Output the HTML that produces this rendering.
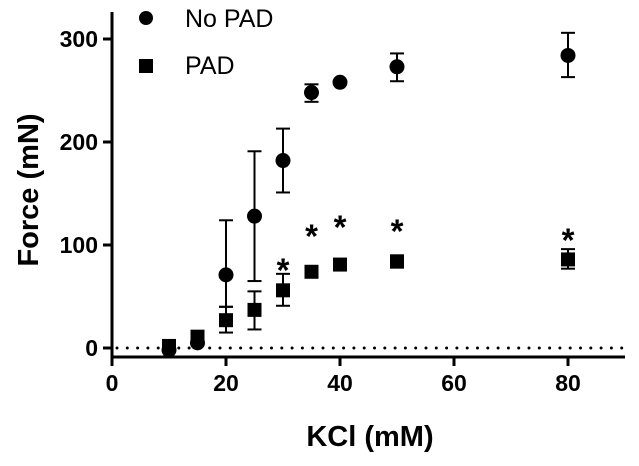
<!DOCTYPE html>
<html><head><meta charset="utf-8"><style>
body{margin:0;background:#fff;}
svg text{font-family:"Liberation Sans",Arial,sans-serif;}
</style></head><body>
<svg id="c" width="639" height="461" viewBox="0 0 639 461">
<g id="axes"></g><g id="marks"></g>
<text x="370" y="446" text-anchor="middle" font-size="29" font-weight="bold">KCl (mM)</text>
<text transform="translate(38,190) rotate(-90)" text-anchor="middle" font-size="29" font-weight="bold">Force (mN)</text>
<circle cx="146" cy="18" r="7" fill="#000"/>
<text x="185" y="27" font-size="25">No PAD</text>
<rect x="139" y="59" width="14" height="14" fill="#000"/>
<text x="185" y="74" font-size="25">PAD</text>
</svg>
<script>
const kcl=[10,15,20,25,30,35,40,50,80];
const noPad=[-2,5,71,128,182,248,258,273,284];
const noPadLo=[-2,5,40,65,151,239,258,259,263];
const noPadHi=[-2,5,124,191,213,256,258,286,306];
const pad=[2,11,27,37,56,74,81,84,86];
const padLo=[0,6,15,18,41,71,77,78,77];
const padHi=[4,16,40,55,72,77,85,90,96];
const sig=[false,false,false,false,true,true,true,true,true];
const sigLevel=[0,0,0,0,83,116,125,121,112];
const xTicks=[0,20,40,60,80];
const yTicks=[0,100,200,300];
const NS='http://www.w3.org/2000/svg';
const X=v=>112+v*5.7;
const Y=v=>348-v*1.03;
function el(t,a,p){const e=document.createElementNS(NS,t);for(const k in a)e.setAttribute(k,a[k]);p.appendChild(e);return e;}
const ax=document.getElementById('axes'),mk=document.getElementById('marks');
let e=el('line',{x1:112,y1:12,x2:112,y2:358,stroke:'#000','stroke-width':3},ax);


e=el('line',{x1:110.5,y1:357,x2:625,y2:357,stroke:'#000','stroke-width':3},ax);


e=el('line',{x1:117,y1:Y(0),x2:625,y2:Y(0),stroke:'#000','stroke-width':3,'stroke-dasharray':'0 10.3','stroke-linecap':'round'},ax);


xTicks.forEach(t=>{
 let l=el('line',{x1:X(t),y1:357,x2:X(t),y2:366,stroke:'#000','stroke-width':3},ax);
 
 
 let tx=el('text',{x:X(t),y:391,'text-anchor':'middle','font-size':23,'font-weight':'bold'},ax);tx.textContent=t;
 
 
});
yTicks.forEach(t=>{
 let l=el('line',{x1:103,y1:Y(t),x2:112,y2:Y(t),stroke:'#000','stroke-width':3},ax);
 
 
 let tx=el('text',{x:98,y:Y(t)+8,'text-anchor':'end','font-size':23,'font-weight':'bold'},ax);tx.textContent=t;
 
 
});
function errbar(x,lo,hi,name){
 const g=el('g',{stroke:'#000','stroke-width':2},mk);
 
 
 el('line',{x1:x,y1:Y(lo),x2:x,y2:Y(hi)},g);
 el('line',{x1:x-7,y1:Y(lo),x2:x+7,y2:Y(lo)},g);
 el('line',{x1:x-7,y1:Y(hi),x2:x+7,y2:Y(hi)},g);
}
kcl.forEach((k,i)=>{
 const x=X(k);
 errbar(x,padLo[i],padHi[i],'pad-error-bar');
 let r=el('rect',{x:x-7,y:Y(pad[i])-7,width:14,height:14,fill:'#000'},mk);
 
 
 errbar(x,noPadLo[i],noPadHi[i],'no-pad-error-bar');
 let c=el('circle',{cx:x,cy:Y(noPad[i]),r:7.5,fill:'#000'},mk);
 
 
 if(sig[i]){
  let s=el('text',{x:x,y:Y(sigLevel[i])+19,'text-anchor':'middle','font-size':33,'font-weight':'bold'},mk);
  s.textContent='*';
  
  
 }
});
</script>
</body></html>
